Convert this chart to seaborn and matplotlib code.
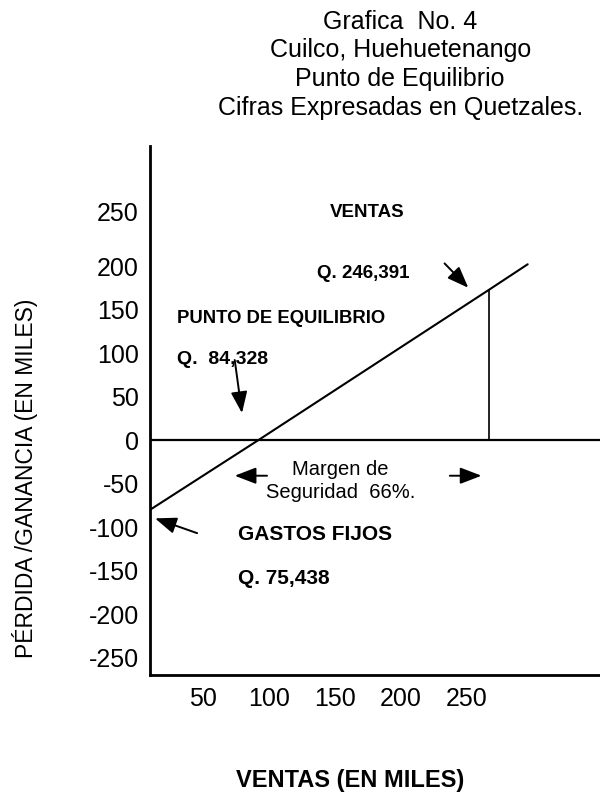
import matplotlib
matplotlib.use("Agg")
import matplotlib.pyplot as plt
from matplotlib.transforms import ScaledTranslation
import seaborn as sns

# chart values (miles de quetzales)
ventas_x = [10, 92, 267, 296]
resultado_y = [-80, 0, 173, 202]
punto_ventas_x = 267
punto_ventas_y = 173

x_ticks = [50, 100, 150, 200, 250]
y_ticks = [-250, -200, -150, -100, -50, 0, 50, 100, 150, 200, 250]

titulo = ["Grafica  No. 4",
          "Cuilco, Huehuetenango",
          "Punto de Equilibrio",
          "Cifras Expresadas en Quetzales."]

sns.set_style("white")
plt.rcParams['font.family'] = ['Liberation Sans', 'DejaVu Sans']
plt.rcParams['text.color'] = 'black'
plt.rcParams['xtick.color'] = 'black'
plt.rcParams['ytick.color'] = 'black'
plt.rcParams['axes.labelcolor'] = 'black'

fig = plt.figure(figsize=(6, 7.94), dpi=100)
ax = fig.add_axes([0.25, 0.1499, 0.75, 0.6663])

sns.lineplot(x=ventas_x, y=resultado_y, color='black', linewidth=1.5, ax=ax)
ax.plot([punto_ventas_x, punto_ventas_x], [0, punto_ventas_y],
        color='black', linewidth=1.2)
ax.axhline(0, color='black', linewidth=1.6)

ax.set_xlim(9.8, 350.8)
ax.set_ylim(-270, 338)

ax.set_xticks(x_ticks)
ax.set_xticklabels([str(v) for v in x_ticks])
ax.set_yticks(y_ticks)
ax.set_yticklabels([str(v) for v in y_ticks])
ax.tick_params(axis='both', length=0, labelsize=18, labelcolor='black')
ax.tick_params(axis='x', pad=9)
ax.tick_params(axis='y', pad=8)

# the top label sits a bit higher in the original
top = ax.get_yticklabels()[-1]
top.set_transform(top.get_transform() + ScaledTranslation(0, 11 / 100, fig.dpi_scale_trans))

for side in ['top', 'right']:
    ax.spines[side].set_visible(False)
for side in ['left', 'bottom']:
    ax.spines[side].set_color('black')
    ax.spines[side].set_linewidth(2)

# titulo en cuatro lineas
for i, linea in enumerate(titulo):
    fig.text(0.667, 1 - (22 + i * 28.5) / 794, linea, ha='center',
             va='center', fontsize=18, color='black')

fig.text(25 / 600, 1 - 478 / 794, "PÉRDIDA /GANANCIA (EN MILES)",
         rotation=90, ha='center', va='center', fontsize=16.5, color='black')
fig.text(350 / 600, 1 - 780 / 794, "VENTAS (EN MILES)", ha='center',
         va='center', fontsize=17, fontweight='bold', color='black')

# anotaciones
bold = dict(fontweight='bold', va='center', ha='left', color='black')
ax.text(146, 261, "VENTAS", fontsize=13.5, **bold)
ax.text(136, 191, "Q. 246,391", fontsize=13.5, **bold)
ax.text(30, 140, "PUNTO DE EQUILIBRIO", fontsize=13.3, **bold)
ax.text(30, 92, "Q.  84,328", fontsize=14, **bold)
ax.text(76.5, -109, "GASTOS FIJOS", fontsize=15, **bold)
ax.text(76.5, -159, "Q. 75,438", fontsize=15, **bold)
ax.text(154, -47, "Margen de\nSeguridad  66%.", fontsize=14.5,
        ha='center', va='center', linespacing=1.25, color='black')

flecha = dict(arrowstyle='-|>,head_length=1.3,head_width=0.5',
              color='black', lw=1.4, shrinkA=0, shrinkB=0)
ax.annotate("", xy=(79.5, 31), xytext=(74, 92), arrowprops=flecha)
ax.annotate("", xy=(251, 175), xytext=(233, 203), arrowprops=flecha)
ax.annotate("", xy=(13.6, -90), xytext=(45.5, -107), arrowprops=flecha)
ax.annotate("", xy=(74, -41), xytext=(98.5, -41), arrowprops=flecha)
ax.annotate("", xy=(261, -41), xytext=(237, -41), arrowprops=flecha)

fig.savefig("out.png", dpi=100)
